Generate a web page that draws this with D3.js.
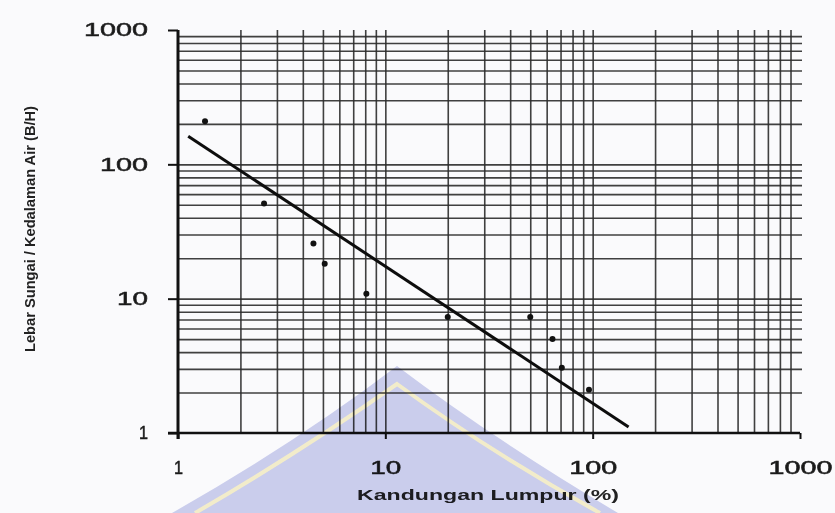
<!DOCTYPE html>
<html>
<head>
<meta charset="utf-8">
<script src="https://cdn.jsdelivr.net/npm/d3@7"></script>
<style>
  body { margin: 0; background: #fafafc; }
  svg { display: block; }
  .tick text { font-family: "Liberation Sans", Arial, sans-serif; fill: #1a1a1a; stroke: #1a1a1a; stroke-width: 0.5px; }
</style>
</head>
<body>
<svg id="chart"></svg>
<script>
// measured points: sediment content (%) vs width/depth ratio
const mudContent = [1.35, 2.6, 4.5, 5.1, 8.1, 20, 50, 64, 71, 96];
const widthDepth = [209, 51, 25.7, 18.2, 10.9, 7.3, 7.3, 5.0, 3.06, 2.1];

// fitted line end points
const fitX = [1.12, 149];
const fitY = [162, 1.11];

const decadeTicks = [1, 10, 100, 1000];
const minorSteps = [2, 3, 4, 5, 6, 7, 8, 9];

const xTitle = "Kandungan Lumpur (%)";
const yTitle = "Lebar Sungai / Kedalaman Air (B/H)";

const width = 835;
const height = 513;
const margin = { left: 178, right: 35, top: 30, bottom: 80 };

const svg = d3.select("#chart").attr("width", width).attr("height", height);

const xScale = d3.scaleLog()
  .domain([1, 1000])
  .range([margin.left, width - margin.right]);

const yScale = d3.scaleLog()
  .domain([1, 1000])
  .range([height - margin.bottom, margin.top]);

// grid lines: 2..9 in each decade plus the inner decade lines
const gridValues = [];
[1, 10, 100].forEach((d) => {
  minorSteps.forEach((s) => gridValues.push(d * s));
  if (d > 1) gridValues.push(d);
});

const plotH = yScale(1) - yScale(1000);
const plotW = xScale(1000) - xScale(1) + 2;

// vertical grid
svg.append("g")
  .attr("class", "grid-x")
  .attr("transform", `translate(0, ${yScale(1)})`)
  .call(d3.axisBottom(xScale).tickValues(gridValues).tickSize(-plotH).tickFormat(""))
  .call((g) => g.select(".domain").remove())
  .call((g) => g.selectAll("line").attr("stroke", "#2b2b2b").attr("stroke-width", 1.6).attr("stroke-opacity", 0.9));

// horizontal grid
svg.append("g")
  .attr("class", "grid-y")
  .attr("transform", `translate(${xScale(1)}, 0)`)
  .call(d3.axisRight(yScale).tickValues(gridValues).tickSize(plotW).tickFormat(""))
  .call((g) => g.select(".domain").remove())
  .call((g) => g.selectAll("line").attr("stroke", "#2b2b2b").attr("stroke-width", 1.6).attr("stroke-opacity", 0.9));

const labelWidth = { 1: 9, 10: 31, 100: 48, 1000: 64 };

// x axis
const xAxis = svg.append("g")
  .attr("id", "x-axis")
  .attr("transform", `translate(0, ${yScale(1)})`)
  .call(d3.axisBottom(xScale).tickValues(decadeTicks).tickSize(6).tickPadding(22).tickFormat(d3.format("d")).tickSizeOuter(0));
xAxis.select(".domain").attr("stroke", "#111").attr("stroke-width", 2.4)
  .attr("d", `M${xScale(1) - 10},0H${xScale(1000)}`);
xAxis.selectAll(".tick line").attr("stroke", "#111").attr("stroke-width", 2);
xAxis.selectAll(".tick text")
  .attr("font-size", 18)
  .attr("textLength", (d) => labelWidth[d])
  .attr("lengthAdjust", "spacingAndGlyphs");

// y axis
const yAxis = svg.append("g")
  .attr("id", "y-axis")
  .attr("transform", `translate(${xScale(1)}, 0)`)
  .call(d3.axisLeft(yScale).tickValues(decadeTicks).tickSize(10).tickPadding(20).tickFormat(d3.format("d")).tickSizeOuter(0));
yAxis.select(".domain").attr("stroke", "#111").attr("stroke-width", 3)
  .attr("d", `M0,${yScale(1000)}V${yScale(1) + 6}`);
yAxis.selectAll(".tick line").attr("stroke", "#111").attr("stroke-width", 2);
yAxis.selectAll(".tick text")
  .attr("font-size", 18)
  .attr("textLength", (d) => labelWidth[d])
  .attr("lengthAdjust", "spacingAndGlyphs");

// axis titles
svg.append("text")
  .attr("x", 488)
  .attr("y", 500)
  .attr("text-anchor", "middle")
  .attr("font-family", "Liberation Sans, Arial, sans-serif")
  .attr("font-weight", "bold")
  .attr("font-size", 15)
  .attr("fill", "#222")
  .attr("textLength", 262)
  .attr("lengthAdjust", "spacingAndGlyphs")
  .text(xTitle);

svg.append("text")
  .attr("transform", "translate(35, 229) rotate(-90)")
  .attr("text-anchor", "middle")
  .attr("font-family", "Liberation Sans Narrow, Liberation Sans, Arial, sans-serif")
  .attr("font-weight", "bold")
  .attr("font-size", 15)
  .attr("fill", "#222")
  .attr("textLength", 246)
  .attr("lengthAdjust", "spacingAndGlyphs")
  .text(yTitle);

// fitted line
const line = d3.line()
  .x((d, i) => xScale(d))
  .y((d, i) => yScale(fitY[i]));

svg.append("path")
  .datum(fitX)
  .attr("d", line)
  .attr("fill", "none")
  .attr("stroke", "#0d0d0d")
  .attr("stroke-width", 3);

// data points
svg.append("g")
  .selectAll("circle")
  .data(mudContent)
  .join("circle")
  .attr("cx", (d) => xScale(d))
  .attr("cy", (d, i) => yScale(widthDepth[i]))
  .attr("r", 3)
  .attr("fill", "#111");

// watermark of the scanned page, laid over the chart
const wm = svg.append("g").attr("id", "watermark").style("mix-blend-mode", "multiply");
wm.append("path")
  .attr("d", "M172,513 Q300,440 397,366 Q495,440 618,513 Z")
  .attr("fill", "#b4b9e6")
  .attr("opacity", 0.65);
wm.append("path")
  .attr("d", "M195,513 Q300,452 397,384 Q490,452 600,513")
  .attr("fill", "none")
  .attr("stroke", "#fff7c8")
  .attr("stroke-width", 4)
  .style("mix-blend-mode", "normal")
  .attr("opacity", 0.85);
</script>
</body>
</html>
